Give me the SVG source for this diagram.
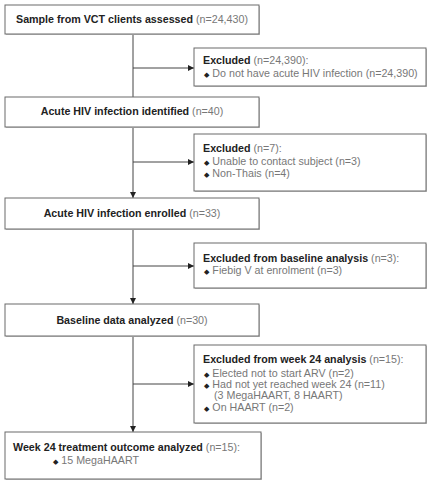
<svg xmlns="http://www.w3.org/2000/svg" width="431" height="486" viewBox="0 0 431 486">
<style>
.box{fill:#fff;stroke:#6a6a6a;stroke-width:1}
.sh{fill:#c4c4c4}
text{font-family:"Liberation Sans",Arial,sans-serif;font-size:10.7px;fill:#777}
.b{font-weight:bold;fill:#222}
.c{text-anchor:middle}
.d{font-family:"DejaVu Sans",sans-serif;font-size:7px;fill:#222}
.ln{stroke:#444;stroke-width:1;fill:none}
</style>
<defs>
<marker id="ah" viewBox="0 0 6 6" refX="6" refY="3" markerWidth="6" markerHeight="6" orient="auto" markerUnits="userSpaceOnUse">
<path d="M0,0 L6,3 L0,6 z" fill="#222"/>
</marker>
</defs>
<rect width="431" height="486" fill="#fff"/>
<g id="connectors">
<line class="ln" x1="133" y1="34" x2="133" y2="97"/>
<line class="ln" x1="133" y1="68" x2="194" y2="68" marker-end="url(#ah)"/>
<line class="ln" x1="133" y1="127" x2="133" y2="198" marker-end="url(#ah)"/>
<line class="ln" x1="133" y1="162" x2="194" y2="162" marker-end="url(#ah)"/>
<line class="ln" x1="133" y1="229" x2="133" y2="304" marker-end="url(#ah)"/>
<line class="ln" x1="133" y1="266" x2="194" y2="266" marker-end="url(#ah)"/>
<line class="ln" x1="133" y1="336" x2="133" y2="432" marker-end="url(#ah)"/>
<line class="ln" x1="133" y1="384" x2="194" y2="384" marker-end="url(#ah)"/>
</g>
<g id="n1">
<rect class="sh" x="6" y="6" width="254" height="29"/>
<rect class="box" x="5" y="5" width="254" height="29"/>
<text class="c" x="132" y="23"><tspan class="b">Sample from VCT clients assessed</tspan> (n=24,430)</text>
</g>
<g id="e1">
<rect class="sh" x="195" y="49" width="232" height="38"/>
<rect class="box" x="194" y="48" width="232" height="38"/>
<text x="203" y="64"><tspan class="b">Excluded</tspan> (n=24,390):</text>
<text x="204" y="77"><tspan class="d">◆</tspan> Do not have acute HIV infection (n=24,390)</text>
</g>
<g id="n2">
<rect class="sh" x="6" y="98" width="254" height="30"/>
<rect class="box" x="5" y="97" width="254" height="30"/>
<text class="c" x="132" y="115"><tspan class="b">Acute HIV infection identified</tspan> (n=40)</text>
</g>
<g id="e2">
<rect class="sh" x="195" y="135" width="232" height="57"/>
<rect class="box" x="194" y="134" width="232" height="57"/>
<text x="203" y="152"><tspan class="b">Excluded</tspan> (n=7):</text>
<text x="204" y="165"><tspan class="d">◆</tspan> Unable to contact subject (n=3)</text>
<text x="204" y="177"><tspan class="d">◆</tspan> Non-Thais (n=4)</text>
</g>
<g id="n3">
<rect class="sh" x="6" y="199" width="254" height="31"/>
<rect class="box" x="5" y="198" width="254" height="31"/>
<text class="c" x="132" y="217"><tspan class="b">Acute HIV infection enrolled</tspan> (n=33)</text>
</g>
<g id="e3">
<rect class="sh" x="195" y="244" width="232" height="45"/>
<rect class="box" x="194" y="243" width="232" height="45"/>
<text x="203" y="262"><tspan class="b">Excluded from baseline analysis</tspan> (n=3):</text>
<text x="204" y="274"><tspan class="d">◆</tspan> Fiebig V at enrolment (n=3)</text>
</g>
<g id="n4">
<rect class="sh" x="6" y="305" width="254" height="32"/>
<rect class="box" x="5" y="304" width="254" height="32"/>
<text class="c" x="132" y="324"><tspan class="b">Baseline data analyzed</tspan> (n=30)</text>
</g>
<g id="e4">
<rect class="sh" x="195" y="346" width="232" height="78"/>
<rect class="box" x="194" y="345" width="232" height="78"/>
<text x="203" y="363"><tspan class="b">Excluded from week 24 analysis</tspan> (n=15):</text>
<text x="204" y="377"><tspan class="d">◆</tspan> Elected not to start ARV (n=2)</text>
<text x="204" y="388"><tspan class="d">◆</tspan> Had not yet reached week 24 (n=11)</text>
<text x="214" y="399">(3 MegaHAART, 8 HAART)</text>
<text x="204" y="411"><tspan class="d">◆</tspan> On HAART (n=2)</text>
</g>
<g id="n5">
<rect class="sh" x="6" y="433" width="256" height="47"/>
<rect class="box" x="5" y="432" width="256" height="47"/>
<text x="13" y="451"><tspan class="b">Week 24 treatment outcome analyzed</tspan> (n=15):</text>
<text x="53" y="464"><tspan class="d">◆</tspan> 15 MegaHAART</text>
</g>
</svg>
